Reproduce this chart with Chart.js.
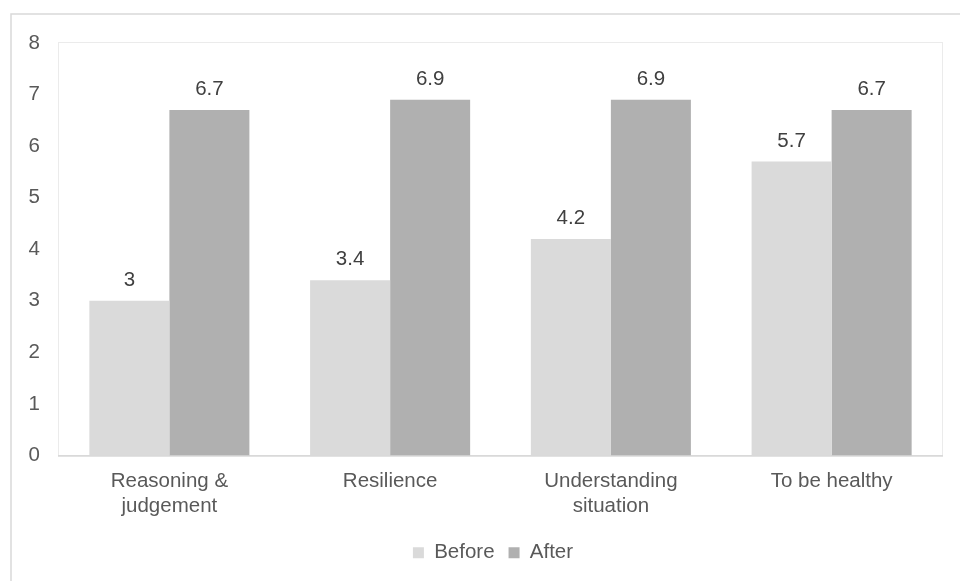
<!DOCTYPE html>
<html>
<head>
<meta charset="utf-8">
<script src="https://cdn.jsdelivr.net/npm/chart.js@4/dist/chart.umd.min.js"></script>
<style>
  html, body { margin: 0; padding: 0; background: #ffffff; }
  #wrap { position: relative; width: 960px; height: 581px; }
</style>
</head>
<body>
<div id="wrap"><canvas id="chart" width="960" height="581"></canvas></div>
<script>
// Survey scores per skill, before and after the programme
const categories = [['Reasoning &', 'judgement'], 'Resilience', ['Understanding', 'situation'], 'To be healthy'];
const beforeValues = [3, 3.4, 4.2, 5.7];
const afterValues = [6.7, 6.9, 6.9, 6.7];
const yTicks = [0, 1, 2, 3, 4, 5, 6, 7, 8];

const FONT = '"Liberation Sans", Arial, sans-serif';
const FONT_SIZE = 20.5;

// Frame around the whole figure and the thin box around the plot area
const framePlugin = {
  id: 'frame',
  beforeDraw(chart) {
    const ctx = chart.ctx;
    const a = chart.chartArea;
    ctx.save();
    ctx.strokeStyle = '#d9d9d9';
    ctx.lineWidth = 1.5;
    ctx.beginPath();
    ctx.moveTo(11, chart.height);
    ctx.lineTo(11, 14);
    ctx.lineTo(chart.width, 14);
    ctx.stroke();
    ctx.strokeStyle = '#ebebeb';
    ctx.lineWidth = 1;
    ctx.strokeRect(Math.round(a.left) - 0.5, Math.round(a.top) - 0.5, Math.round(a.right - a.left) + 1, Math.round(a.bottom - a.top) + 1);
    ctx.restore();
  }
};

// Value written above each bar
const valueLabels = {
  id: 'valueLabels',
  afterDatasetsDraw(chart) {
    const ctx = chart.ctx;
    ctx.save();
    ctx.font = FONT_SIZE + 'px ' + FONT;
    ctx.fillStyle = '#404040';
    ctx.textAlign = 'center';
    ctx.textBaseline = 'alphabetic';
    chart.data.datasets.forEach((ds, i) => {
      chart.getDatasetMeta(i).data.forEach((bar, j) => {
        ctx.fillText(String(ds.data[j]), bar.x, bar.y - 15);
      });
    });
    ctx.restore();
  }
};

new Chart(document.getElementById('chart'), {
  type: 'bar',
  data: {
    labels: categories,
    datasets: [
      { label: 'Before', data: beforeValues, backgroundColor: '#dadada' },
      { label: 'After', data: afterValues, backgroundColor: '#b0b0b0' }
    ]
  },
  options: {
    responsive: false,
    animation: false,
    devicePixelRatio: 1,
    layout: { padding: { left: 26, right: 0, top: 43, bottom: 8 } },
    datasets: { bar: { categoryPercentage: 0.725, barPercentage: 1.0 } },
    scales: {
      x: {
        afterFit(scale) { scale.height = 73; },
        grid: { display: false, drawTicks: false },
        border: { display: true, color: '#d9d9d9', width: 1.5 },
        ticks: {
          color: '#595959',
          padding: 13,
          font: { family: FONT, size: FONT_SIZE, lineHeight: 1.22 },
          maxRotation: 0,
          autoSkip: false
        }
      },
      y: {
        min: 0,
        max: 8,
        afterFit(scale) { scale.width = 33; },
        afterBuildTicks(scale) { scale.ticks = yTicks.map(v => ({ value: v })); },
        grid: { display: false, drawTicks: false },
        border: { display: false },
        ticks: {
          color: '#595959',
          padding: 19,
          font: { family: FONT, size: FONT_SIZE }
        }
      },
      // empty margin on the right side of the plot area
      rightMargin: {
        type: 'linear',
        position: 'right',
        display: true,
        afterFit(scale) { scale.width = 18; },
        grid: { display: false, drawTicks: false },
        border: { display: false },
        ticks: { display: false }
      }
    },
    plugins: {
      legend: {
        position: 'bottom',
        labels: {
          color: '#595959',
          boxWidth: 11,
          boxHeight: 11,
          padding: 14,
          font: { family: FONT, size: FONT_SIZE }
        }
      },
      tooltip: { enabled: false }
    }
  },
  plugins: [framePlugin, valueLabels]
});
</script>
</body>
</html>
